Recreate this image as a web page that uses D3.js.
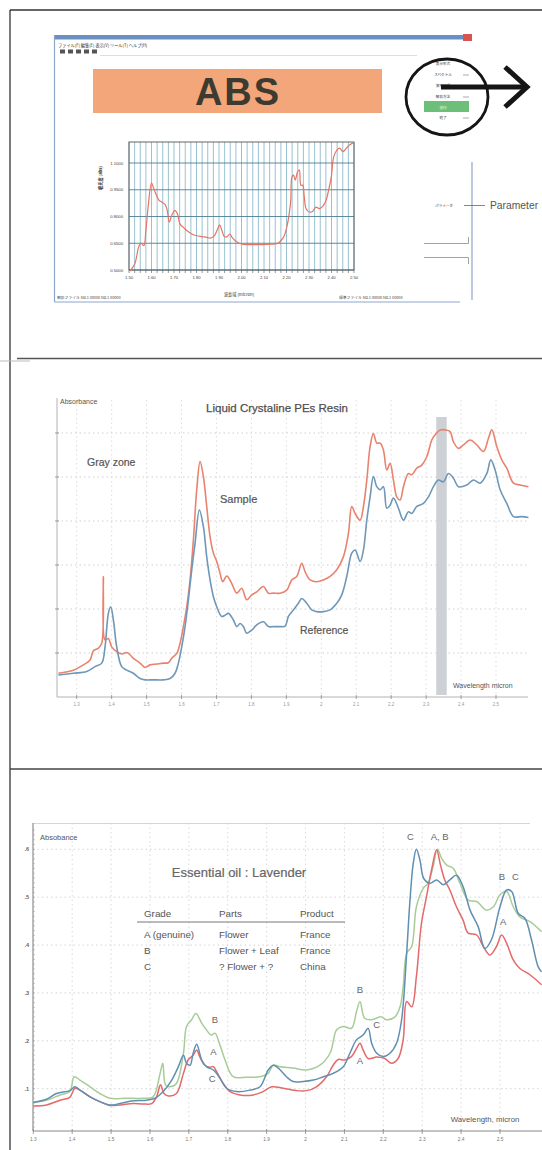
<!DOCTYPE html>
<html>
<head>
<meta charset="utf-8">
<script src="https://cdn.jsdelivr.net/npm/d3@7"></script>
<style>
  body { margin: 0; background: #fff; }
  svg { display: block; }
  text { font-family: "Liberation Sans", Arial, sans-serif; }
  .jp { font-family: "Noto Sans CJK JP", sans-serif; }
</style>
</head>
<body>
<script>
// ---------- Panel 1: ABS spectrum in the analyser window ----------
const absTickLabels = ["1.50","1.60","1.70","1.80","1.90","2.00","2.10","2.20","2.30","2.40","2.50"];
const absYTickLabels = ["0.5000","0.6500","0.8000","0.9500","1.1000"];
const absYTickValues = [0.5, 0.65, 0.8, 0.95, 1.1];
const absSpectrum = [
  [1.503,0.494],[1.525,0.532],[1.545,0.636],[1.555,0.649],[1.566,0.636],[1.575,0.721],
  [1.585,0.853],[1.600,0.988],[1.610,0.957],[1.622,0.919],[1.634,0.891],[1.645,0.881],
  [1.660,0.868],[1.670,0.834],[1.679,0.768],[1.690,0.806],[1.704,0.834],[1.715,0.815],
  [1.727,0.757],[1.742,0.739],[1.757,0.721],[1.779,0.702],[1.801,0.692],[1.824,0.687],
  [1.846,0.683],[1.861,0.679],[1.876,0.687],[1.891,0.721],[1.903,0.753],[1.913,0.721],
  [1.924,0.687],[1.936,0.687],[1.948,0.702],[1.958,0.683],[1.981,0.655],[2.003,0.645],
  [2.025,0.642],[2.055,0.642],[2.093,0.642],[2.130,0.645],[2.160,0.649],[2.175,0.664],
  [2.190,0.692],[2.201,0.739],[2.212,0.815],[2.219,0.891],[2.224,1.021],[2.231,1.032],
  [2.239,1.004],[2.249,1.051],[2.257,1.060],[2.264,0.975],[2.272,0.975],[2.279,0.910],
  [2.287,0.844],[2.302,0.825],[2.316,0.828],[2.331,0.853],[2.346,0.844],[2.361,0.857],
  [2.376,0.891],[2.387,0.947],[2.399,1.021],[2.410,1.136],[2.425,1.174],[2.436,1.183],
  [2.451,1.164],[2.466,1.183],[2.481,1.202],[2.496,1.211],[2.500,1.207]
];
const menuItems = ["表示形式","スペクトル","波形処理","解析方法","実行","終了"];

// ---------- Panel 2: Liquid crystaline PEs resin ----------
const lcpTicks = [1.3,1.4,1.5,1.6,1.7,1.8,1.9,2.0,2.1,2.2,2.3,2.4,2.5];
const lcpTickLabels = ["1.3","1.4","1.5","1.6","1.7","1.8","1.9","2","2.1","2.2","2.3","2.4","2.5"];
const lcpGrid = [0.1,0.2,0.3,0.4,0.5,0.6];
const lcpGrayZone = [2.329, 2.359];
const lcpSample = [
  [1.2475,0.054],[1.2905,0.061],[1.3191,0.073],[1.3382,0.084],[1.3477,0.105],[1.3620,0.111],
  [1.3716,0.122],[1.3763,0.274],[1.3811,0.130],[1.3906,0.133],[1.4002,0.114],[1.4145,0.103],
  [1.4288,0.098],[1.4431,0.101],[1.4527,0.096],[1.4622,0.088],[1.4813,0.077],[1.4956,0.067],
  [1.5099,0.073],[1.5290,0.075],[1.5481,0.077],[1.5624,0.078],[1.5719,0.088],[1.5863,0.099],
  [1.5958,0.122],[1.6053,0.160],[1.6149,0.205],[1.6244,0.266],[1.6340,0.357],[1.6435,0.471],
  [1.6531,0.535],[1.6626,0.501],[1.6721,0.433],[1.6817,0.364],[1.6912,0.327],[1.7008,0.308],
  [1.7103,0.281],[1.7179,0.262],[1.7294,0.275],[1.7437,0.258],[1.7580,0.236],[1.7723,0.247],
  [1.7866,0.221],[1.8010,0.232],[1.8153,0.239],[1.8344,0.251],[1.8487,0.236],[1.8630,0.236],
  [1.8821,0.236],[1.9011,0.243],[1.9155,0.266],[1.9298,0.274],[1.9441,0.304],[1.9536,0.285],
  [1.9679,0.266],[1.9870,0.262],[2.0061,0.266],[2.0252,0.274],[2.0443,0.289],[2.0634,0.319],
  [2.0777,0.372],[2.0872,0.433],[2.0968,0.417],[2.1111,0.402],[2.1206,0.433],[2.1302,0.493],
  [2.1397,0.569],[2.1492,0.599],[2.1588,0.577],[2.1683,0.577],[2.1779,0.561],[2.1874,0.516],
  [2.1969,0.531],[2.2065,0.493],[2.2160,0.455],[2.2256,0.448],[2.2351,0.478],[2.2494,0.508],
  [2.2590,0.505],[2.2733,0.520],[2.2876,0.527],[2.3019,0.546],[2.3162,0.584],[2.3258,0.596],
  [2.3401,0.607],[2.3544,0.607],[2.3687,0.603],[2.3782,0.580],[2.3926,0.565],[2.4069,0.573],
  [2.4260,0.584],[2.4450,0.573],[2.4641,0.558],[2.4784,0.588],[2.4880,0.607],[2.5023,0.569],
  [2.5166,0.539],[2.5309,0.520],[2.5500,0.486],[2.5691,0.482],[2.5929,0.478]
];
const lcpReference = [
  [1.2475,0.050],[1.2905,0.054],[1.3286,0.058],[1.3525,0.069],[1.3716,0.077],[1.3811,0.114],
  [1.3906,0.190],[1.3973,0.205],[1.4050,0.175],[1.4145,0.114],[1.4288,0.069],[1.4431,0.061],
  [1.4622,0.054],[1.4813,0.042],[1.4956,0.039],[1.5195,0.039],[1.5481,0.039],[1.5672,0.042],
  [1.5815,0.054],[1.5910,0.077],[1.6006,0.114],[1.6101,0.160],[1.6197,0.221],[1.6292,0.289],
  [1.6387,0.349],[1.6511,0.425],[1.6626,0.387],[1.6721,0.319],[1.6817,0.266],[1.6912,0.228],
  [1.7008,0.205],[1.7151,0.183],[1.7246,0.186],[1.7342,0.190],[1.7485,0.175],[1.7580,0.160],
  [1.7676,0.167],[1.7771,0.160],[1.7866,0.145],[1.8010,0.152],[1.8153,0.164],[1.8344,0.171],
  [1.8487,0.160],[1.8630,0.160],[1.8821,0.160],[1.8964,0.161],[1.9059,0.183],[1.9202,0.198],
  [1.9345,0.213],[1.9441,0.224],[1.9584,0.213],[1.9727,0.198],[1.9870,0.194],[2.0061,0.194],
  [2.0252,0.198],[2.0443,0.213],[2.0586,0.232],[2.0729,0.274],[2.0872,0.327],[2.0968,0.334],
  [2.1111,0.308],[2.1206,0.334],[2.1302,0.402],[2.1397,0.455],[2.1492,0.501],[2.1588,0.478],
  [2.1683,0.471],[2.1779,0.478],[2.1874,0.429],[2.1969,0.436],[2.2065,0.452],[2.2208,0.429],
  [2.2351,0.402],[2.2494,0.421],[2.2590,0.417],[2.2733,0.433],[2.2924,0.440],[2.3067,0.455],
  [2.3210,0.478],[2.3353,0.493],[2.3496,0.489],[2.3639,0.508],[2.3782,0.497],[2.3926,0.478],
  [2.4164,0.482],[2.4355,0.493],[2.4546,0.486],[2.4737,0.508],[2.4851,0.539],[2.4975,0.516],
  [2.5118,0.471],[2.5309,0.440],[2.5500,0.410],[2.5739,0.410],[2.5929,0.408]
];

// ---------- Panel 3: Essential oil : Lavender ----------
const oilTicks = [1.3,1.4,1.5,1.6,1.7,1.8,1.9,2.0,2.1,2.2,2.3,2.4,2.5];
const oilTickLabels = ["1.3","1.4","1.5","1.6","1.7","1.8","1.9","2","2.1","2.2","2.3","2.4","2.5"];
const oilYTicks = [0.1,0.2,0.3,0.4,0.5,0.6];
const oilYTickLabels = [".1",".2",".3",".4",".5",".6"];
const gradeTable = [
  ["Grade","Parts","Product"],
  ["A (genuine)","Flower","France"],
  ["B","Flower + Leaf","France"],
  ["C","? Flower + ?","China"]
];
const oilA = [
  [1.300,0.064],[1.334,0.066],[1.369,0.076],[1.394,0.082],[1.407,0.101],[1.420,0.097],
  [1.446,0.083],[1.471,0.073],[1.497,0.065],[1.523,0.066],[1.557,0.069],[1.583,0.068],
  [1.604,0.069],[1.617,0.083],[1.627,0.108],[1.636,0.090],[1.647,0.085],[1.668,0.090],
  [1.686,0.132],[1.698,0.160],[1.711,0.170],[1.720,0.181],[1.728,0.167],[1.741,0.149],
  [1.754,0.145],[1.763,0.146],[1.771,0.136],[1.788,0.111],[1.806,0.094],[1.831,0.087],
  [1.866,0.087],[1.891,0.094],[1.913,0.104],[1.943,0.101],[1.977,0.096],[2.003,0.096],
  [2.028,0.104],[2.054,0.125],[2.071,0.149],[2.084,0.161],[2.101,0.160],[2.118,0.167],
  [2.131,0.184],[2.140,0.195],[2.148,0.181],[2.161,0.163],[2.183,0.166],[2.204,0.163],
  [2.221,0.153],[2.238,0.163],[2.251,0.202],[2.260,0.282],[2.273,0.271],[2.285,0.334],
  [2.298,0.445],[2.311,0.501],[2.324,0.557],[2.337,0.599],[2.347,0.567],[2.358,0.536],
  [2.371,0.515],[2.388,0.480],[2.405,0.452],[2.418,0.425],[2.440,0.421],[2.457,0.397],
  [2.474,0.379],[2.491,0.397],[2.504,0.421],[2.517,0.404],[2.534,0.369],[2.551,0.351],
  [2.577,0.338],[2.607,0.317]
];
const oilB = [
  [1.300,0.073],[1.334,0.076],[1.369,0.087],[1.394,0.094],[1.405,0.125],[1.420,0.118],
  [1.446,0.104],[1.471,0.090],[1.497,0.080],[1.540,0.080],[1.583,0.080],[1.608,0.083],
  [1.626,0.132],[1.633,0.153],[1.640,0.108],[1.651,0.104],[1.668,0.111],[1.686,0.174],
  [1.694,0.230],[1.707,0.244],[1.718,0.257],[1.733,0.237],[1.745,0.223],[1.758,0.212],
  [1.767,0.216],[1.780,0.191],[1.793,0.160],[1.814,0.125],[1.848,0.124],[1.883,0.125],
  [1.904,0.132],[1.917,0.149],[1.934,0.146],[1.968,0.143],[2.003,0.139],[2.037,0.149],
  [2.063,0.174],[2.080,0.223],[2.097,0.230],[2.118,0.226],[2.131,0.261],[2.140,0.282],
  [2.152,0.247],[2.170,0.244],[2.195,0.250],[2.208,0.244],[2.230,0.250],[2.243,0.271],
  [2.251,0.313],[2.260,0.383],[2.273,0.397],[2.285,0.480],[2.303,0.519],[2.315,0.529],
  [2.328,0.564],[2.339,0.600],[2.350,0.581],[2.363,0.567],[2.380,0.560],[2.397,0.529],
  [2.418,0.494],[2.440,0.491],[2.465,0.473],[2.483,0.480],[2.500,0.505],[2.517,0.512],
  [2.534,0.480],[2.551,0.459],[2.577,0.449],[2.607,0.428]
];
const oilC = [
  [1.300,0.071],[1.334,0.078],[1.360,0.090],[1.394,0.096],[1.407,0.104],[1.420,0.097],
  [1.446,0.083],[1.471,0.073],[1.497,0.066],[1.523,0.069],[1.557,0.075],[1.591,0.076],
  [1.613,0.080],[1.634,0.094],[1.656,0.118],[1.673,0.146],[1.686,0.170],[1.694,0.153],
  [1.703,0.149],[1.711,0.174],[1.720,0.193],[1.733,0.160],[1.745,0.146],[1.763,0.139],
  [1.780,0.122],[1.797,0.101],[1.823,0.094],[1.857,0.097],[1.883,0.104],[1.904,0.139],
  [1.917,0.149],[1.930,0.143],[1.951,0.125],[1.968,0.115],[1.994,0.115],[2.020,0.118],
  [2.046,0.125],[2.071,0.132],[2.097,0.146],[2.114,0.174],[2.131,0.202],[2.148,0.212],
  [2.161,0.226],[2.170,0.195],[2.183,0.174],[2.200,0.167],[2.217,0.174],[2.234,0.195],
  [2.247,0.244],[2.260,0.383],[2.268,0.487],[2.277,0.571],[2.285,0.600],[2.294,0.578],
  [2.304,0.539],[2.320,0.529],[2.337,0.536],[2.354,0.526],[2.371,0.536],[2.388,0.546],
  [2.405,0.522],[2.423,0.473],[2.444,0.438],[2.461,0.393],[2.478,0.411],[2.500,0.480],
  [2.517,0.515],[2.530,0.512],[2.547,0.466],[2.564,0.456],[2.581,0.411],[2.598,0.355],
  [2.607,0.344]
];
const oilLabels = [
  {t:"C", wl:2.270, v:0.620}, {t:"A, B", wl:2.345, v:0.620},
  {t:"B", wl:2.505, v:0.535}, {t:"C", wl:2.540, v:0.535}, {t:"A", wl:2.508, v:0.441},
  {t:"B", wl:2.140, v:0.300}, {t:"C", wl:2.183, v:0.227}, {t:"A", wl:2.140, v:0.152},
  {t:"B", wl:1.767, v:0.237}, {t:"A", wl:1.763, v:0.170}, {t:"C", wl:1.760, v:0.113}
];

// ================= drawing =================
const W = 542, H = 1150;
const svg = d3.select("body").append("svg").attr("width", W).attr("height", H);
svg.append("rect").attr("width", W).attr("height", H).attr("fill", "#fff");

// page frame and panel separators
svg.append("line").attr("x1", 10).attr("x2", 10).attr("y1", 10).attr("y2", H)
  .attr("stroke", "#333").attr("stroke-width", 1.3);
svg.append("line").attr("x1", 10).attr("x2", W).attr("y1", 10).attr("y2", 10)
  .attr("stroke", "#333").attr("stroke-width", 1.3);
svg.append("line").attr("x1", 17).attr("x2", W).attr("y1", 358.5).attr("y2", 358.5)
  .attr("stroke", "#555").attr("stroke-width", 1.6);
svg.append("line").attr("x1", 0).attr("x2", 30).attr("y1", 361).attr("y2", 361)
  .attr("stroke", "#bbb").attr("stroke-width", 1);
svg.append("line").attr("x1", 10).attr("x2", W).attr("y1", 769).attr("y2", 769)
  .attr("stroke", "#444").attr("stroke-width", 1.3);

// ---------- Panel 1 ----------
const p1 = svg.append("g");
// window chrome
p1.append("rect").attr("x", 54.5).attr("y", 35).attr("width", 416).attr("height", 4.5).attr("fill", "#6a8fc2");
p1.append("rect").attr("x", 463).attr("y", 34).attr("width", 9).attr("height", 7).attr("fill", "#d9534f");
p1.append("line").attr("x1", 54.5).attr("x2", 54.5).attr("y1", 35).attr("y2", 302)
  .attr("stroke", "#8ea6cc").attr("stroke-width", 1.2);
p1.append("line").attr("x1", 54.5).attr("x2", 460).attr("y1", 302).attr("y2", 302)
  .attr("stroke", "#8ea6cc").attr("stroke-width", 1.2);
p1.append("line").attr("x1", 472).attr("x2", 472).attr("y1", 162).attr("y2", 300)
  .attr("stroke", "#8ea6cc").attr("stroke-width", 1.2);
p1.append("text").attr("class", "jp").attr("x", 58).attr("y", 46.5).attr("font-size", 4.2)
  .attr("fill", "#333").text("ファイル(F)  編集(E)  表示(V)  ツール(T)  ヘルプ(H)");
p1.selectAll("rect.tool").data(d3.range(5)).join("rect").attr("class", "tool")
  .attr("x", i => 60 + i * 8).attr("y", 49.5).attr("width", 5).attr("height", 4).attr("fill", "#555");
p1.append("line").attr("x1", 100).attr("x2", 417).attr("y1", 55.5).attr("y2", 55.5)
  .attr("stroke", "#ddd").attr("stroke-width", 1);

// title banner
p1.append("rect").attr("x", 93).attr("y", 69).attr("width", 289).attr("height", 44).attr("fill", "#f4a67b");
p1.append("text").attr("x", 238).attr("y", 104.5).attr("text-anchor", "middle")
  .attr("font-size", 38).attr("font-weight", "bold").attr("letter-spacing", 2)
  .attr("fill", "#3d3a2f").text("ABS");

// spectrum chart
const ax = d3.scaleLinear().domain([1.5, 2.5]).range([129, 354]);
const ay = d3.scaleLinear().domain([0.5, 1.1]).range([270, 163]);
const absGrid = d3.range(41).map(i => 1.5 + i * 0.025);
p1.append("g").selectAll("line").data(absGrid).join("line")
  .attr("x1", d => ax(d)).attr("x2", d => ax(d)).attr("y1", 142).attr("y2", 270)
  .attr("stroke", "#7fb2c4").attr("stroke-width", 0.8);
p1.append("g").selectAll("line").data(absGrid).join("line")
  .attr("x1", d => ax(d)).attr("x2", d => ax(d)).attr("y1", 270).attr("y2", 273)
  .attr("stroke", "#555").attr("stroke-width", 0.6);
p1.append("g").selectAll("line").data(absYTickValues).join("line")
  .attr("x1", 129).attr("x2", 354).attr("y1", d => ay(d)).attr("y2", d => ay(d))
  .attr("stroke", "#4f7d92").attr("stroke-width", 0.9);
p1.append("rect").attr("x", 129).attr("y", 142).attr("width", 225).attr("height", 128)
  .attr("fill", "none").attr("stroke", "#555").attr("stroke-width", 0.9);
p1.append("g").selectAll("text").data(absYTickLabels).join("text")
  .attr("x", 123).attr("y", (d, i) => ay(absYTickValues[i]) + 1.5).attr("text-anchor", "end")
  .attr("font-size", 4.2).attr("fill", "#444").text(d => d);
p1.append("g").selectAll("text").data(absTickLabels).join("text")
  .attr("x", (d, i) => ax(1.5 + i * 0.1)).attr("y", 278.5).attr("text-anchor", "middle")
  .attr("font-size", 4.2).attr("fill", "#444").text(d => d);
p1.append("text").attr("class", "jp").attr("transform", "translate(102,178) rotate(-90)")
  .attr("text-anchor", "middle").attr("font-size", 4.2).attr("font-weight", "bold").attr("fill", "#333")
  .text("吸光度 (abs)");
p1.append("text").attr("class", "jp").attr("x", 239).attr("y", 295.5).attr("text-anchor", "middle")
  .attr("font-size", 4.2).attr("fill", "#333").text("波長域 (micron)");
p1.append("text").attr("class", "jp").attr("x", 57).attr("y", 299).attr("font-size", 3.8)
  .attr("fill", "#444").text("解析ファイル    No.1 00000   No.1 00000");
p1.append("text").attr("class", "jp").attr("x", 339).attr("y", 299).attr("font-size", 3.8)
  .attr("fill", "#444").text("標準ファイル    No.1 00000   No.1 00000");
const absLine = d3.line().x(d => ax(d[0])).y(d => ay(d[1])).curve(d3.curveCatmullRom.alpha(0.5));
p1.append("path").datum(absSpectrum).attr("d", absLine).attr("fill", "none")
  .attr("stroke", "#e27565").attr("stroke-width", 1.2);

// side menu with highlight
p1.append("rect").attr("x", 424).attr("y", 101).attr("width", 45).attr("height", 11).attr("fill", "#6cbf79");
const menuY = [64, 75, 86, 97, 107.5, 118];
p1.append("g").selectAll("text").data(menuItems).join("text").attr("class", "jp")
  .attr("x", 443).attr("y", (d, i) => menuY[i] + 1.2).attr("text-anchor", "middle")
  .attr("font-size", 3.6).attr("fill", (d, i) => i === 4 ? "#fff" : "#333").text(d => d);
p1.append("g").selectAll("line").data([1, 3, 5]).join("line")
  .attr("x1", 463).attr("x2", 469).attr("y1", i => menuY[i]).attr("y2", i => menuY[i])
  .attr("stroke", "#888").attr("stroke-width", 0.7);
p1.append("ellipse").attr("cx", 447).attr("cy", 97).attr("rx", 41).attr("ry", 38)
  .attr("fill", "none").attr("stroke", "#151515").attr("stroke-width", 2.8);
p1.append("line").attr("x1", 441).attr("x2", 526).attr("y1", 87).attr("y2", 87)
  .attr("stroke", "#151515").attr("stroke-width", 5);
p1.append("polyline").attr("points", "505,67 527,87 505,107").attr("fill", "none")
  .attr("stroke", "#151515").attr("stroke-width", 5);
p1.append("text").attr("class", "jp").attr("x", 444).attr("y", 206.5).attr("text-anchor", "middle")
  .attr("font-size", 3.6).attr("fill", "#444").text("パラメータ");
p1.append("line").attr("x1", 464).attr("x2", 485).attr("y1", 205.5).attr("y2", 205.5)
  .attr("stroke", "#777").attr("stroke-width", 0.9);
p1.append("text").attr("x", 490).attr("y", 209).attr("font-size", 10.3).attr("fill", "#555").text("Parameter");
p1.append("path").attr("d", "M424,243.5 H468.5 V237 M424,257.5 H468.5 V264")
  .attr("fill", "none").attr("stroke", "#999").attr("stroke-width", 0.9);

// ---------- Panel 2 ----------
const p2 = svg.append("g");
const bx = d3.scaleLinear().domain([1.3, 2.5]).range([76.7, 496]);
const by = d3.scaleLinear().domain([0, 0.6]).range([697, 433]);
p2.append("g").selectAll("line").data(lcpGrid).join("line")
  .attr("x1", 57).attr("x2", 528).attr("y1", d => by(d)).attr("y2", d => by(d))
  .attr("stroke", "#c4c4c4").attr("stroke-width", 0.8).attr("stroke-dasharray", "1.5,3");
p2.append("g").selectAll("line").data(lcpTicks).join("line")
  .attr("x1", d => bx(d)).attr("x2", d => bx(d)).attr("y1", 400).attr("y2", 697)
  .attr("stroke", "#d4d4d4").attr("stroke-width", 0.8).attr("stroke-dasharray", "1.5,3");
p2.append("rect").attr("x", bx(lcpGrayZone[0])).attr("y", 417)
  .attr("width", bx(lcpGrayZone[1]) - bx(lcpGrayZone[0])).attr("height", 278).attr("fill", "#cdd1d5");
p2.append("line").attr("x1", 57).attr("x2", 57).attr("y1", 398).attr("y2", 697)
  .attr("stroke", "#aaa").attr("stroke-width", 0.9);
p2.append("line").attr("x1", 57).attr("x2", 528).attr("y1", 697).attr("y2", 697)
  .attr("stroke", "#aaa").attr("stroke-width", 0.9);
p2.append("g").selectAll("line").data(lcpGrid).join("line")
  .attr("x1", 55).attr("x2", 59).attr("y1", d => by(d)).attr("y2", d => by(d))
  .attr("stroke", "#888").attr("stroke-width", 0.8);
p2.append("g").selectAll("line").data(lcpTicks).join("line")
  .attr("x1", d => bx(d)).attr("x2", d => bx(d)).attr("y1", 695).attr("y2", 699)
  .attr("stroke", "#888").attr("stroke-width", 0.8);
p2.append("g").selectAll("text").data(lcpTickLabels).join("text")
  .attr("x", (d, i) => bx(lcpTicks[i])).attr("y", 706).attr("text-anchor", "middle")
  .attr("font-size", 4.5).attr("fill", "#999").text(d => d);
const lcpLine = d3.line().x(d => bx(d[0])).y(d => by(d[1])).curve(d3.curveCatmullRom.alpha(0.5));
p2.append("path").datum(lcpSample).attr("d", lcpLine).attr("fill", "none")
  .attr("stroke", "#e9836f").attr("stroke-width", 1.6);
p2.append("path").datum(lcpReference).attr("d", lcpLine).attr("fill", "none")
  .attr("stroke", "#6f97b8").attr("stroke-width", 1.6);
p2.append("text").attr("x", 60).attr("y", 404).attr("font-size", 7).attr("fill", "#555").text("Absorbance");
p2.append("text").attr("x", 277).attr("y", 412).attr("text-anchor", "middle").attr("font-size", 11.5)
  .attr("fill", "#4f4f4f").attr("stroke", "#4f4f4f").attr("stroke-width", 0.25).text("Liquid Crystaline PEs Resin");
p2.append("text").attr("x", 87).attr("y", 466).attr("font-size", 10.5).attr("fill", "#555")
  .attr("stroke", "#555").attr("stroke-width", 0.2).text("Gray zone");
p2.append("text").attr("x", 220).attr("y", 503).attr("font-size", 11).attr("fill", "#555")
  .attr("stroke", "#555").attr("stroke-width", 0.2).text("Sample");
p2.append("text").attr("x", 300).attr("y", 634).attr("font-size", 10.5).attr("fill", "#555")
  .attr("stroke", "#555").attr("stroke-width", 0.2).text("Reference");
p2.append("text").attr("x", 453).attr("y", 688).attr("font-size", 7).attr("fill", "#555").text("Wavelength micron");

// ---------- Panel 3 ----------
const p3 = svg.append("g");
const cx = d3.scaleLinear().domain([1.3, 2.5]).range([33.3, 500]);
const cy = d3.scaleLinear().domain([0.1, 0.6]).range([1088.7, 849.3]);
p3.append("g").selectAll("line").data(oilYTicks).join("line")
  .attr("x1", 33).attr("x2", W).attr("y1", d => cy(d)).attr("y2", d => cy(d))
  .attr("stroke", "#c8c8c8").attr("stroke-width", 0.8).attr("stroke-dasharray", "1.5,3");
p3.append("g").selectAll("line").data(oilTicks.slice(1)).join("line")
  .attr("x1", d => cx(d)).attr("x2", d => cx(d)).attr("y1", 823).attr("y2", 1131)
  .attr("stroke", "#d0d0d0").attr("stroke-width", 0.8).attr("stroke-dasharray", "1.5,3");
p3.append("line").attr("x1", 33).attr("x2", 530).attr("y1", 823.5).attr("y2", 823.5)
  .attr("stroke", "#ccc").attr("stroke-width", 0.8);
p3.append("line").attr("x1", 33).attr("x2", 33).attr("y1", 823).attr("y2", 1131)
  .attr("stroke", "#777").attr("stroke-width", 1);
p3.append("line").attr("x1", 33).attr("x2", W).attr("y1", 1131).attr("y2", 1131)
  .attr("stroke", "#888").attr("stroke-width", 1);
p3.append("g").selectAll("line").data(d3.range(2, 65).map(i => i * 0.01)).join("line")
  .attr("x1", 33).attr("x2", 35).attr("y1", d => cy(d)).attr("y2", d => cy(d))
  .attr("stroke", "#999").attr("stroke-width", 0.5);
p3.append("g").selectAll("line").data(oilTicks).join("line")
  .attr("x1", d => cx(d)).attr("x2", d => cx(d)).attr("y1", 1129).attr("y2", 1134)
  .attr("stroke", "#888").attr("stroke-width", 0.8);
p3.append("g").selectAll("text").data(oilYTickLabels).join("text")
  .attr("x", 29).attr("y", (d, i) => cy(oilYTicks[i]) + 2).attr("text-anchor", "end")
  .attr("font-size", 5.5).attr("font-weight", "bold").attr("fill", "#666").text(d => d);
p3.append("g").selectAll("text").data(oilTickLabels).join("text")
  .attr("x", (d, i) => cx(oilTicks[i])).attr("y", 1141).attr("text-anchor", "middle")
  .attr("font-size", 4.8).attr("fill", "#777").text(d => d);
const oilLine = d3.line().x(d => cx(d[0])).y(d => cy(d[1])).curve(d3.curveCatmullRom.alpha(0.5));
p3.append("path").datum(oilB).attr("d", oilLine).attr("fill", "none")
  .attr("stroke", "#a8cc98").attr("stroke-width", 1.5);
p3.append("path").datum(oilA).attr("d", oilLine).attr("fill", "none")
  .attr("stroke", "#e4696b").attr("stroke-width", 1.5);
p3.append("path").datum(oilC).attr("d", oilLine).attr("fill", "none")
  .attr("stroke", "#5f90b2").attr("stroke-width", 1.5);
p3.append("text").attr("x", 40).attr("y", 840).attr("font-size", 7.5).attr("fill", "#555").text("Absobance");
p3.append("text").attr("x", 239).attr("y", 877).attr("text-anchor", "middle").attr("font-size", 13)
  .attr("fill", "#666").attr("stroke", "#666").attr("stroke-width", 0.2).text("Essential oil : Lavender");
const colX = [144, 219, 300];
const rowY = [916.5, 938, 954, 970];
gradeTable.forEach((row, r) => {
  row.forEach((cell, c) => {
    p3.append("text").attr("x", colX[c]).attr("y", rowY[r]).attr("font-size", 9.8)
      .attr("fill", "#555").text(cell);
  });
});
p3.append("line").attr("x1", 137).attr("x2", 345).attr("y1", 922).attr("y2", 922)
  .attr("stroke", "#777").attr("stroke-width", 1);
p3.append("g").selectAll("text").data(oilLabels).join("text")
  .attr("x", d => cx(d.wl)).attr("y", d => cy(d.v)).attr("text-anchor", "middle")
  .attr("font-size", 9.5).attr("fill", "#666").text(d => d.t);
p3.append("text").attr("x", 485).attr("y", 1122).attr("text-anchor", "middle").attr("font-size", 7.8)
  .attr("fill", "#555").text("Wavelength, micron");
</script>
</body>
</html>
